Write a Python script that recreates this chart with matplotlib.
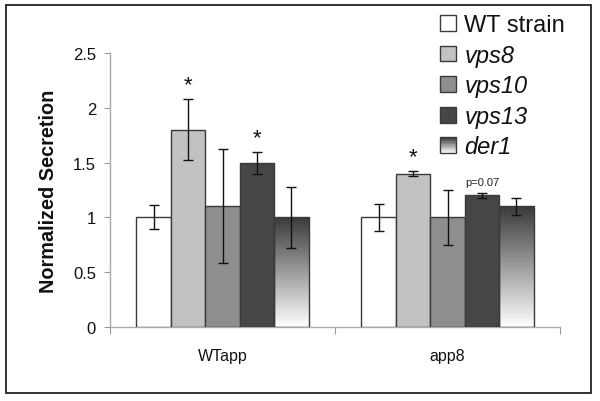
import numpy as np
import matplotlib
matplotlib.use("Agg")
import matplotlib.pyplot as plt
from matplotlib.patches import Rectangle
from matplotlib.legend_handler import HandlerBase
from matplotlib.colors import LinearSegmentedColormap

plt.rcParams['font.family'] = ['Liberation Sans', 'DejaVu Sans']

categories = ["WTapp", "app8"]
strains = ["WT strain", "vps8", "vps10", "vps13", "der1"]
values = {
    "WT strain": [1.0, 1.0],
    "vps8": [1.8, 1.4],
    "vps10": [1.1, 1.0],
    "vps13": [1.5, 1.2],
    "der1": [1.0, 1.1],
}
errors = {
    "WT strain": [0.11, 0.12],
    "vps8": [0.28, 0.02],
    "vps10": [0.52, 0.25],
    "vps13": [0.10, 0.02],
    "der1": [0.28, 0.08],
}
# annotations: (category index, strain, text)
annotations = [(0, "vps8", "*"), (0, "vps13", "*"), (1, "vps8", "*"), (1, "vps13", "p=0.07")]
yticks = [0, 0.5, 1, 1.5, 2, 2.5]
ytick_labels = ["0", "0.5", "1", "1.5", "2", "2.5"]

colors = {"WT strain": "#ffffff", "vps8": "#c2c2c2", "vps10": "#8e8e8e",
          "vps13": "#464646", "der1": None}
grad_cmap = LinearSegmentedColormap.from_list("g", ["#ffffff", "#3a3a3a"])
edge = "#3a3a3a"

W, H = 600, 402
fig = plt.figure(figsize=(6, 4.02), dpi=100)
ax = fig.add_axes([110 / W, 1 - 328 / H, 450 / W, 274 / H])

bw = 0.153
ncat = len(categories)
for ci in range(ncat):
    center = ci + 0.5
    start = center - bw * len(strains) / 2
    for si, s in enumerate(strains):
        x = start + bw * si + bw / 2
        v = values[s][ci]
        e = errors[s][ci]
        if colors[s] is None:
            bar = ax.bar(x, v, width=bw, facecolor="none", edgecolor=edge, linewidth=1.0, zorder=3)[0]
            grad = np.linspace(0, 1, 256).reshape(-1, 1)
            im = ax.imshow(grad, extent=[x - bw / 2, x + bw / 2, 0, v], origin="lower",
                           aspect="auto", cmap=grad_cmap, zorder=2, interpolation="bilinear")
            im.set_clip_path(bar)
        else:
            ax.bar(x, v, width=bw, facecolor=colors[s], edgecolor=edge, linewidth=1.0, zorder=3)
        ax.errorbar(x, v, yerr=e, fmt="none", ecolor="#111111", elinewidth=1.0,
                    capsize=3.6, capthick=1.0, zorder=4)

for ci, s, txt in annotations:
    si = strains.index(s)
    center = ci + 0.5
    x = center - bw * len(strains) / 2 + bw * si + bw / 2
    top = values[s][ci] + errors[s][ci]
    if txt == "*":
        ax.text(x, top + 0.13, txt, ha="center", va="center", fontsize=16, color="#111111")
    else:
        ax.text(x, top + 0.1, txt, ha="center", va="center", fontsize=8, color="#222222")

ax.set_xlim(0, ncat)
ax.set_ylim(0, 2.5)
ax.set_yticks(yticks)
ax.set_yticklabels(ytick_labels, fontsize=12, color="#111111")
ax.set_xticks(range(ncat + 1))
ax.set_xticklabels([""] * (ncat + 1))
ax.set_xticks([c + 0.5 for c in range(ncat)], minor=True)
ax.set_xticklabels(categories, minor=True, fontsize=11.5, color="#111111")
ax.tick_params(axis="x", which="minor", length=0, pad=15)
ax.tick_params(axis="x", which="major", length=5, color="#999999", direction="out")
ax.tick_params(axis="y", length=4, color="#999999", pad=6)
for sp in ["top", "right"]:
    ax.spines[sp].set_visible(False)
for sp in ["left", "bottom"]:
    ax.spines[sp].set_color("#aaaaaa")
    ax.spines[sp].set_linewidth(1.0)
ax.set_ylabel("Normalized Secretion", fontsize=14.3, fontweight="bold", color="#111111", labelpad=11)


class HandlerGradient(HandlerBase):
    def create_artists(self, legend, orig_handle, xdescent, ydescent, width, height, fontsize, trans):
        arts = []
        n = 20
        for i in range(n):
            c = grad_cmap(i / (n - 1))
            arts.append(Rectangle((-xdescent, -ydescent + height * i / n), width, height / n,
                                  facecolor=c, edgecolor="none", transform=trans))
        arts.append(Rectangle((-xdescent, -ydescent), width, height, facecolor="none",
                              edgecolor=edge, linewidth=1.0, transform=trans))
        return arts


class GradHandle:
    pass


handles = []
for s in strains:
    if colors[s] is None:
        handles.append(GradHandle())
    else:
        handles.append(Rectangle((0, 0), 1, 1, facecolor=colors[s], edgecolor=edge, linewidth=1.0))

leg = fig.legend(handles, strains, loc="upper left", bbox_to_anchor=(419 / W, 1 + 6 / H),
                 frameon=False, fontsize=17, handlelength=0.66, handleheight=0.66,
                 handletextpad=0.36, labelspacing=0.32,
                 handler_map={GradHandle: HandlerGradient()})
for t in leg.get_texts()[1:]:
    t.set_fontstyle("italic")
for t in leg.get_texts():
    t.set_color("#111111")

fig.patches.append(Rectangle((6 / W, 1 - 394 / H), 585 / W, 388 / H, transform=fig.transFigure,
                             facecolor="none", edgecolor="#222222", linewidth=1.3))

fig.savefig("out.png", dpi=100)
